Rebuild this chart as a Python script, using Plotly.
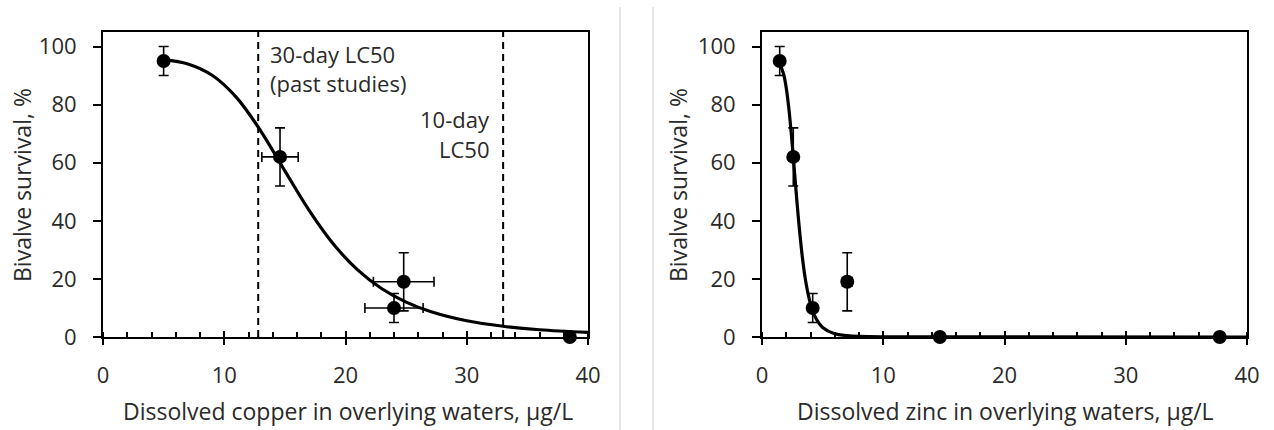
import plotly.graph_objects as go

# --- Copper exposure: measured survival (mean ± error) ---
cu_conc = [5.0, 14.6, 24.8, 24.0, 38.5]
cu_conc_err = [0.0, 1.5, 2.5, 2.4, 0.0]
cu_surv = [95, 62, 19, 10, 0]
cu_surv_err = [5, 10, 10, 5, 0]

# Copper fitted dose-response curve (sampled points)
cu_fit_x = [5, 7, 9, 11, 13, 15, 17, 19, 21, 23, 25, 27, 30, 33, 36, 40]
cu_fit_y = [95.5, 94.0, 90.1, 82.5, 71.0, 57.2, 43.6, 32.0, 23.1, 16.6, 12.0, 8.8, 5.6, 3.7, 2.5, 1.6]

# LC50 reference lines for copper
lc50_30day = 12.8
lc50_10day = 33.0

# --- Zinc exposure: measured survival (mean ± error) ---
zn_conc = [1.46, 2.58, 4.18, 7.03, 14.67, 37.75]
zn_conc_err = [0.0, 0.0, 0.0, 0.4, 0.0, 0.0]
zn_surv = [95, 62, 10, 19, 0, 0]
zn_surv_err = [5, 10, 5, 10, 0, 0]

# Zinc fitted dose-response curve (sampled points)
zn_fit_x = [1.46, 1.8, 2.0, 2.2, 2.4, 2.6, 2.8, 3.0, 3.3, 3.6, 4.0, 4.5, 5.0, 6.0, 7.0, 8.0, 10.0, 40.0]
zn_fit_y = [94.2, 90.2, 85.7, 79.2, 70.7, 61.0, 50.7, 40.9, 28.5, 19.3, 11.4, 6.0, 3.3, 1.1, 0.46, 0.2, 0.05, 0.0]

x_ticks = [0, 10, 20, 30, 40]
y_ticks = [0, 20, 40, 60, 80, 100]

FONT = "Open Sans"
TXT = "#2a2a2a"
FS = 22
FS_TITLE = 23

W, H = 1274, 430


def px_x(p):
    return p / W


def px_y(p):
    return 1 - p / H


fig = go.Figure()

err_style = dict(color="black", thickness=1.6, width=5)

# Copper panel
fig.add_trace(go.Scatter(x=cu_fit_x, y=cu_fit_y, mode="lines", line=dict(color="black", width=3.2, shape="spline"),
                         xaxis="x", yaxis="y", cliponaxis=False, showlegend=False, hoverinfo="skip"))
fig.add_trace(go.Scatter(x=cu_conc, y=cu_surv, mode="markers",
                         marker=dict(color="black", size=14),
                         error_y=dict(type="data", array=cu_surv_err, visible=True, **err_style),
                         error_x=dict(type="data", array=cu_conc_err, visible=True, **err_style),
                         xaxis="x", yaxis="y", cliponaxis=False, showlegend=False))

# Zinc panel
fig.add_trace(go.Scatter(x=zn_fit_x, y=zn_fit_y, mode="lines", line=dict(color="black", width=3.2, shape="spline"),
                         xaxis="x2", yaxis="y2", cliponaxis=False, showlegend=False, hoverinfo="skip"))
fig.add_trace(go.Scatter(x=zn_conc, y=zn_surv, mode="markers",
                         marker=dict(color="black", size=14),
                         error_y=dict(type="data", array=zn_surv_err, visible=True, **err_style),
                         error_x=dict(type="data", array=zn_conc_err, visible=True, **err_style),
                         xaxis="x2", yaxis="y2", cliponaxis=False, showlegend=False))

xaxis_common = dict(
    range=[0, 40], tickvals=x_ticks, ticks="outside", ticklen=6, tickwidth=2, tickcolor="black",
    showline=True, linecolor="black", linewidth=2, mirror=True, showgrid=False, zeroline=False,
    minor=dict(dtick=2, ticks="inside", ticklen=5, tickwidth=2, tickcolor="black", showgrid=False),
    tickfont=dict(family=FONT, size=FS, color=TXT), ticklabelstandoff=12, fixedrange=True,
    automargin=False,
)
yaxis_common = dict(
    range=[0, 105], tickvals=y_ticks, ticks="outside", ticklen=8, tickwidth=2, tickcolor="black",
    showline=True, linecolor="black", linewidth=2, mirror=True, showgrid=False, zeroline=False,
    tickfont=dict(family=FONT, size=FS, color=TXT), ticklabelstandoff=12, fixedrange=True,
    automargin=False,
)
# Inner half of the crossing major ticks on the x axes
xinner_common = dict(
    range=[0, 40], tickvals=x_ticks, ticks="inside", ticklen=6, tickwidth=2, tickcolor="black",
    showticklabels=False, showline=False, showgrid=False, zeroline=False, fixedrange=True,
    automargin=False,
)

left_dom = [px_x(103), px_x(588)]
right_dom = [px_x(762), px_x(1247)]
y_dom = [px_y(337), px_y(32)]
fig.update_layout(
    width=W, height=H, margin=dict(l=0, r=0, t=0, b=0, pad=0), autosize=False,
    paper_bgcolor="white", plot_bgcolor="white",
    xaxis=dict(domain=left_dom, anchor="y", **xaxis_common),
    yaxis=dict(domain=y_dom, anchor="x", **yaxis_common),
    xaxis2=dict(domain=right_dom, anchor="y2", **xaxis_common),
    yaxis2=dict(domain=y_dom, anchor="x2", **yaxis_common),
    xaxis3=dict(overlaying="x", anchor="y", **xinner_common),
    xaxis4=dict(overlaying="x2", anchor="y2", **xinner_common),
)

# LC50 dashed lines
for xv in (lc50_30day, lc50_10day):
    fig.add_shape(type="line", xref="x", yref="y", x0=xv, x1=xv, y0=0, y1=105,
                  line=dict(color="black", width=2, dash="7px,5px"))

# Chart-area borders
for xp in (620, 653):
    fig.add_shape(type="line", xref="paper", yref="paper", x0=px_x(xp), x1=px_x(xp),
                  y0=0, y1=px_y(7), line=dict(color="#dcdcdc", width=1.5))

ann_font = dict(family=FONT, size=FS, color=TXT)
title_font = dict(family=FONT, size=FS_TITLE, color=TXT)
annotations = [
    dict(text="30-day LC50", x=px_x(268), y=px_y(54), xanchor="left", yanchor="middle", font=ann_font),
    dict(text="(past studies)", x=px_x(268), y=px_y(83), xanchor="left", yanchor="middle", font=ann_font),
    dict(text="10-day", x=px_x(492), y=px_y(119), xanchor="right", yanchor="middle", font=ann_font),
    dict(text="LC50", x=px_x(492), y=px_y(149), xanchor="right", yanchor="middle", font=ann_font),
    dict(text="Dissolved copper in overlying waters, µg/L", x=px_x(348), y=px_y(411),
         xanchor="center", yanchor="middle", font=title_font),
    dict(text="Dissolved zinc in overlying waters, µg/L", x=px_x(1005), y=px_y(411),
         xanchor="center", yanchor="middle", font=title_font),
    dict(text="Bivalve survival, %", x=px_x(22), y=px_y(185), xanchor="center", yanchor="middle",
         textangle=-90, font=title_font),
    dict(text="Bivalve survival, %", x=px_x(678), y=px_y(185), xanchor="center", yanchor="middle",
         textangle=-90, font=title_font),
]
for a in annotations:
    fig.add_annotation(xref="paper", yref="paper", showarrow=False, **a)

# Invisible traces so the overlay axes are drawn
fig.add_trace(go.Scatter(x=[None], y=[None], xaxis="x3", yaxis="y", showlegend=False, hoverinfo="skip"))
fig.add_trace(go.Scatter(x=[None], y=[None], xaxis="x4", yaxis="y2", showlegend=False, hoverinfo="skip"))

fig.write_html("out.html")
